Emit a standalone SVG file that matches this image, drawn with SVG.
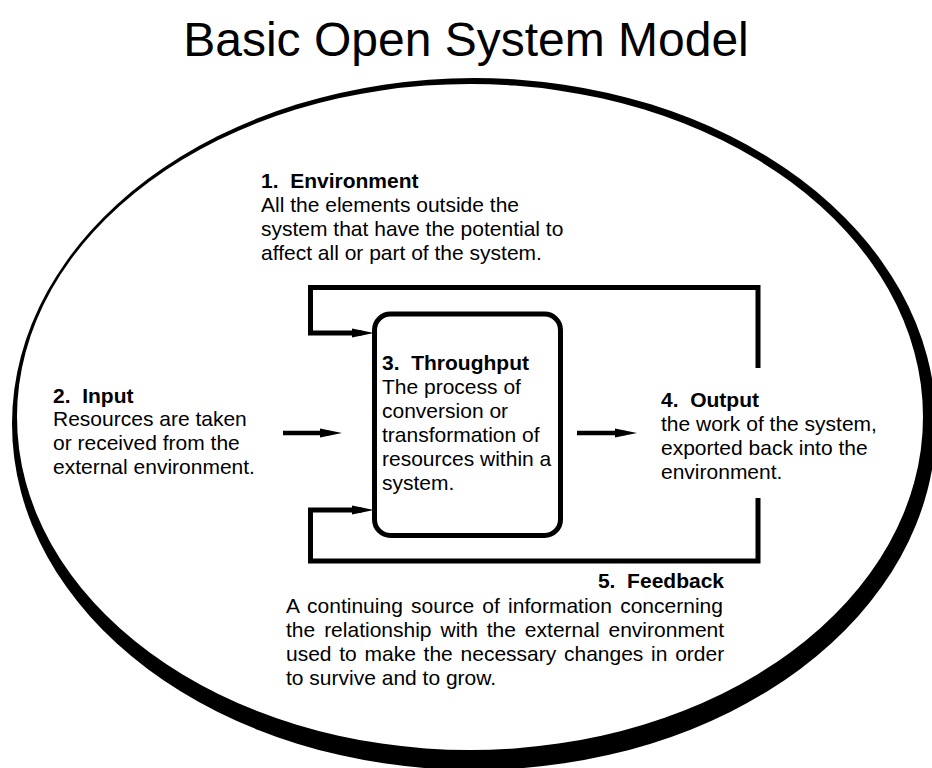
<svg xmlns="http://www.w3.org/2000/svg" width="932" height="768" viewBox="0 0 932 768">
<style>
text{font-family:"Liberation Sans",Arial,Helvetica,sans-serif;fill:#000;}
.t{font-size:21px;}
.b{font-size:21px;font-weight:bold;}
.title{font-size:48px;}
.ln{fill:none;stroke:#000;stroke-width:5;stroke-linejoin:miter;stroke-linecap:butt;}
.ar{fill:none;stroke:#000;stroke-width:4.5;marker-end:url(#ah);}
</style>
<defs>
<marker id="ah" viewBox="0 0 22 10" refX="10" refY="5" markerWidth="22" markerHeight="10" markerUnits="userSpaceOnUse" orient="auto">
<path d="M0,0.5 L22,5 L0,9.5 z" fill="#000"/>
</marker>
</defs>
<rect x="0" y="0" width="932" height="768" fill="#fff"/>
<text class="title" x="466" y="56" text-anchor="middle">Basic Open System Model</text>
<g id="environment">
<ellipse cx="474" cy="424" rx="462" ry="346" fill="#000"/>
<ellipse cx="470" cy="417" rx="453" ry="333" fill="#fff"/>
<text class="b" x="261" y="188" xml:space="preserve">1.  Environment</text>
<text class="t" x="261" y="212">All the elements outside the</text>
<text class="t" x="261" y="236">system that have the potential to</text>
<text class="t" x="261" y="260">affect all or part of the system.</text>
</g>
<g id="input">
<text class="b" x="53" y="403" xml:space="preserve">2.  Input</text>
<text class="t" x="53" y="426">Resources are taken</text>
<text class="t" x="53" y="450">or received from the</text>
<text class="t" x="53" y="474">external environment.</text>
</g>
<g id="throughput">
<rect x="374.5" y="314" width="186" height="221.5" rx="16" ry="16" fill="#fff" stroke="#000" stroke-width="5"/>
<text class="b" x="382" y="370" xml:space="preserve">3.  Throughput</text>
<text class="t" x="382" y="394">The process of</text>
<text class="t" x="382" y="418">conversion or</text>
<text class="t" x="382" y="442">transformation of</text>
<text class="t" x="382" y="466">resources within a</text>
<text class="t" x="382" y="490">system.</text>
</g>
<g id="output">
<text class="b" x="661" y="407" xml:space="preserve">4.  Output</text>
<text class="t" x="661" y="431">the work of the system,</text>
<text class="t" x="661" y="455">exported back into the</text>
<text class="t" x="661" y="479">environment.</text>
</g>
<g id="feedback">
<text class="b" x="724" y="588" text-anchor="end" xml:space="preserve">5.  Feedback</text>
<text class="t" x="286" y="613" word-spacing="2.4">A continuing source of information concerning</text>
<text class="t" x="286" y="637" word-spacing="3.1">the relationship with the external environment</text>
<text class="t" x="286" y="661" word-spacing="1.9">used to make the necessary changes in order</text>
<text class="t" x="286" y="685">to survive and to grow.</text>
</g>
<g id="connectors">
<path class="ln" d="M758,368 V287.5 H310.5 V333 H362" marker-end="url(#ah)"/>
<path class="ln" d="M758,498 V561 H310.5 V510 H362" marker-end="url(#ah)"/>
<path class="ar" d="M283,433 H330"/>
<path class="ar" d="M577,433 H625"/>
</g>
</svg>
